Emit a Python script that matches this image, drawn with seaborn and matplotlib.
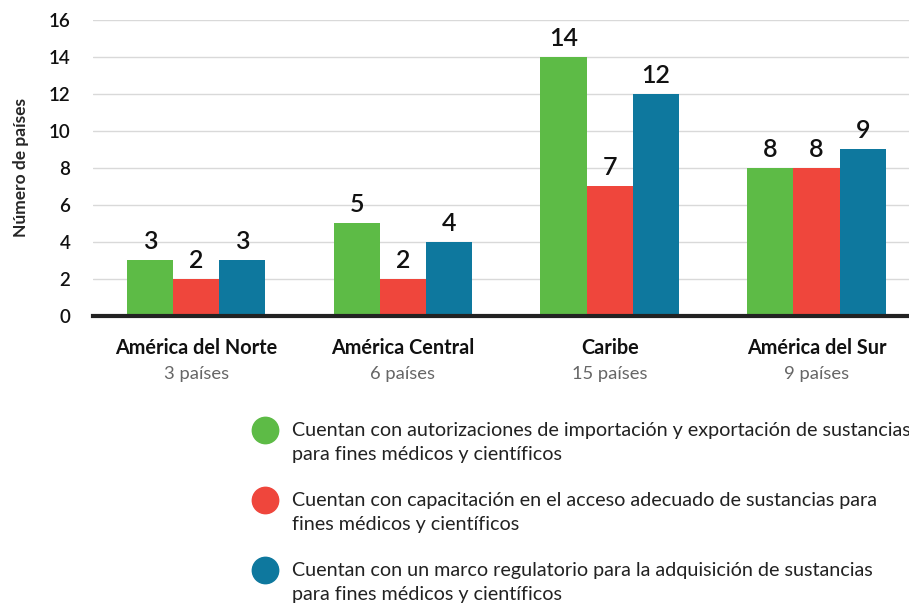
import matplotlib
matplotlib.use("Agg")
import matplotlib.pyplot as plt
from matplotlib.lines import Line2D
import matplotlib.transforms as mtransforms
import pandas as pd
import seaborn as sns

regions = ["América del Norte", "América Central", "Caribe", "América del Sur"]
region_counts = ["3 países", "6 países", "15 países", "9 países"]
series = [
    "Cuentan con autorizaciones de importación y exportación de sustancias\npara fines médicos y científicos",
    "Cuentan con capacitación en el acceso adecuado de sustancias para\nfines médicos y científicos",
    "Cuentan con un marco regulatorio para la adquisición de sustancias\npara fines médicos y científicos",
]
autorizaciones = [3, 5, 14, 8]
capacitacion = [2, 2, 7, 8]
marco = [3, 4, 12, 9]
colors = ["#5DBB46", "#EF463C", "#0E789E"]

rows = []
for s, vals in zip(series, [autorizaciones, capacitacion, marco]):
    for r, v in zip(regions, vals):
        rows.append({"region": r, "serie": s, "valor": v})
df = pd.DataFrame(rows)

sns.set_theme(style="white")
plt.rcParams["font.family"] = ["Lato", "DejaVu Sans"]

fig = plt.figure(figsize=(9.09, 6.04), dpi=100)
ax = fig.add_axes([0.102, 0.477, 0.91, 0.49])

sns.barplot(data=df, x="region", y="valor", hue="serie", palette=colors,
            width=0.67, gap=0, saturation=1, linewidth=0, ax=ax, legend=False)

for c in ax.containers:
    ax.bar_label(c, fontsize=18, padding=5, color="#111111", fontweight="semibold")

ax.set_ylim(0, 16)
ax.set_xlim(-0.5, 3.5)
ax.set_yticks(range(0, 17, 2))
ax.tick_params(axis="y", labelsize=13.5, length=0, pad=16, labelcolor="#111111")
for t in ax.get_yticklabels():
    t.set_fontweight("semibold")
ax.grid(axis="y", color="#d9d9d9", linewidth=1)
ax.set_axisbelow(True)
for side in ["top", "right", "left"]:
    ax.spines[side].set_visible(False)
ax.spines["bottom"].set_linewidth(3)
ax.spines["bottom"].set_color("#222222")
ax.set_xlabel("")
ax.set_ylabel("Número de países", fontsize=12.5, fontweight="bold", labelpad=14)
ax.set_xticks(range(len(regions)))
ax.set_xticklabels([])
ax.tick_params(axis="x", length=0)

trans = mtransforms.blended_transform_factory(ax.transData, fig.transFigure)
for i, (r, n) in enumerate(zip(regions, region_counts)):
    fig.text(i, 1 - 348 / 604, r, transform=trans, ha="center", va="center",
             fontsize=14.3, fontweight="bold", color="#111111")
    fig.text(i, 1 - 374 / 604, n, transform=trans, ha="center", va="center",
             fontsize=13.2, color="#666666")

# legend drawn by hand: circle next to first line of each two-line label
for k, (s, c) in enumerate(zip(series, colors)):
    yc = 1 - (430 + 70 * k) / 604
    fig.add_artist(Line2D([265 / 909], [yc], marker="o", markersize=19,
                          color=c, linestyle="", transform=fig.transFigure))
    fig.text(292 / 909, yc + 0.013, s, ha="left", va="top", fontsize=14.2,
             color="#222222", linespacing=1.5)

fig.savefig("out.png", dpi=100)
